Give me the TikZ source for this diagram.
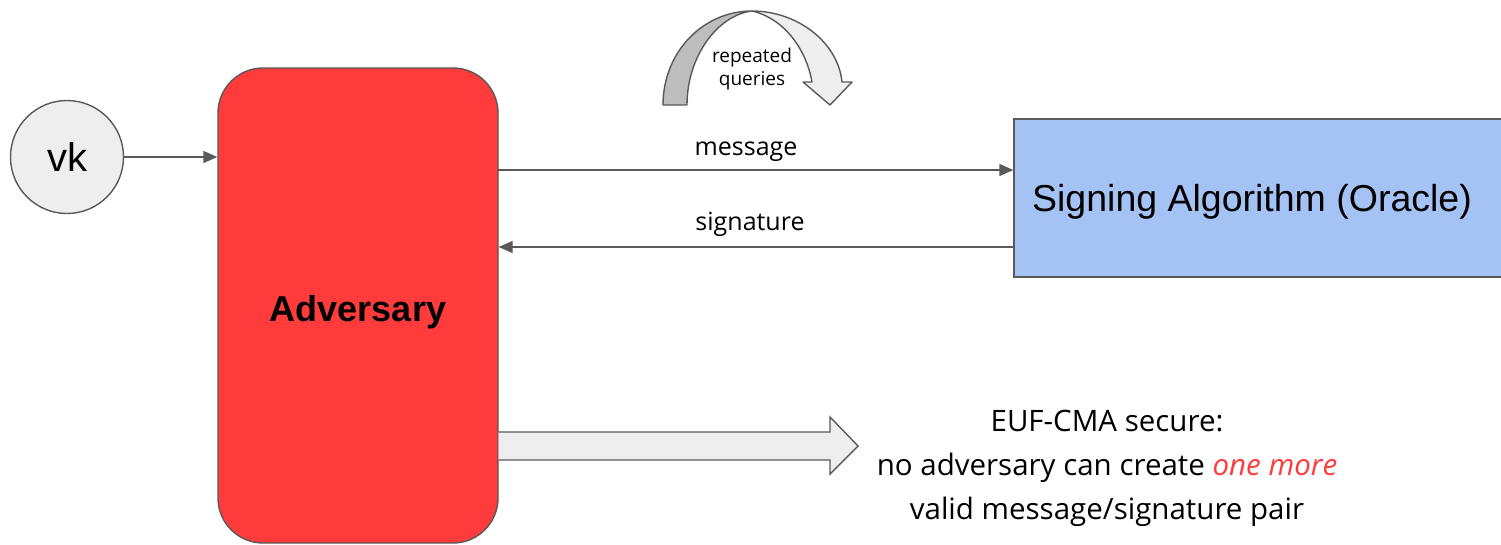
\documentclass[tikz,border=0pt]{standalone}
\usepackage{fontspec}
\setmainfont{Liberation Sans}
\newfontfamily\labfont{Open Sans}
\usetikzlibrary{arrows.meta}
\definecolor{strokegray}{HTML}{595959}
\definecolor{advred}{HTML}{FF3B3B}
\definecolor{oracleblue}{HTML}{A4C2F4}
\definecolor{lightfill}{HTML}{EEEEEE}
\definecolor{darkfill}{HTML}{BDBDBD}
\tikzset{
  conn/.style={draw=strokegray, line width=1.6pt, -{Triangle[length=14pt,width=12pt]}},
  shapeline/.style={draw=strokegray, line width=1.4pt},
  lab/.style={font=\labfont\fontsize{25}{28}\selectfont, inner sep=0pt, anchor=base}
}
\begin{document}
\begin{tikzpicture}[x=1pt,y=-1pt]
\useasboundingbox (0,0) rectangle (1501,544);
% vk
\node[circle, shapeline, fill=lightfill, minimum size=113pt, inner sep=0pt,
      font=\fontsize{40}{46}\selectfont] (vk) at (67,157) {vk};
% adversary
\node[shapeline, fill=advred, rounded corners=45pt, minimum width=280pt,
      minimum height=475pt, inner sep=0pt,
      font=\bfseries\fontsize{36}{42}\selectfont] (adv) at (358,305.5) {\raisebox{-16pt}[0pt][0pt]{Adversary}};
% oracle
\node[shapeline, fill=oracleblue, minimum width=488pt, minimum height=158pt,
      inner sep=0pt, text depth=-12pt, font=\fontsize{37.5}{42}\selectfont] (sign) at (1258,198) {\hspace*{-12pt}Signing Algorithm (Oracle)};
% connectors
\draw[conn] (vk.east) -- (vk.east -| adv.west);
\coordinate (msgL) at (498,170);
\coordinate (sigR) at (1014,247);
\draw[conn] (msgL) -- (msgL -| sign.west);
\draw[conn] (sigR) -- (sigR -| adv.east);
\node[lab] (msglab) at (746,155) {message};
\node[lab] (siglab) at (750,230) {signature};
% block arrow
\path[shapeline, fill=lightfill] (adv.east |- 0,432) -- (830,432) -- (830,417) -- (858,446)
  -- (830,474) -- (830,460) -- (adv.east |- 0,460);
% claim
\node[align=center, font=\labfont\fontsize{29.5}{44}\selectfont, inner sep=0pt] (claim) at (1107,468)
  {EUF-CMA secure:\\no adversary can create \textcolor{advred}{\itshape one more}\\valid message/signature pair};
% curved arrow
\path[shapeline, fill=darkfill, line join=round] (663,105) .. controls (663,52) and (703,11) .. (752,11)
  .. controls (718,15) and (687,56) .. (687,105) -- cycle;
\path[shapeline, fill=lightfill, line join=round] (752,11) .. controls (797,11) and (838,42) .. (842,82)
  -- (852,82) -- (830,105) -- (803,82) -- (812,82) .. controls (806,48) and (783,18) .. (752,11) -- cycle;
\node[align=center, font=\labfont\fontsize{19}{23}\selectfont, inner sep=0pt] (rq) at (752,69) {repeated\\queries};
\end{tikzpicture}
\end{document}
